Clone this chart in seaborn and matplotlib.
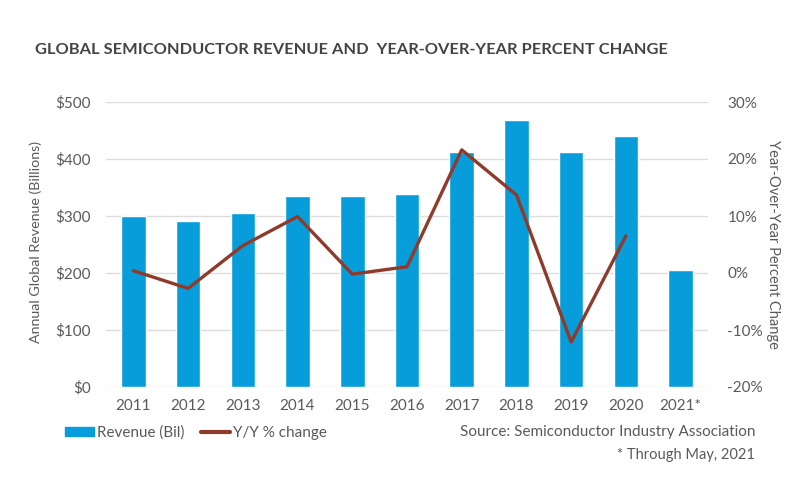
import numpy as np
import pandas as pd
import seaborn as sns
import matplotlib.pyplot as plt
from matplotlib.lines import Line2D
from matplotlib.patches import Patch
from matplotlib.ticker import FuncFormatter

years = ['2011', '2012', '2013', '2014', '2015', '2016',
         '2017', '2018', '2019', '2020', '2021*']
revenue = [299.5, 291.6, 305.6, 335.8, 335.2, 338.9,
           412.2, 468.8, 412.3, 440.4, 205.5]
yoy_years = years[:10]
yoy_change = [0.4, -2.7, 4.8, 9.9, -0.2, 1.1, 21.6, 13.7, -12.1, 6.5]

bar_color = '#079ddb'
line_color = '#8e3b2b'
text_color = '#5a5a5a'
grid_color = '#dcdcdc'

sns.set_theme(style='white')
plt.rcParams['font.family'] = ['Lato', 'DejaVu Sans']

df_rev = pd.DataFrame({'year': years, 'revenue': revenue})
df_yoy = pd.DataFrame({'pos': range(len(yoy_years)), 'change': yoy_change})

fig = plt.figure(figsize=(8, 5), dpi=100)
ax = fig.add_axes([0.1325, 0.226, 0.7525, 0.570])

# revenue bars
sns.barplot(data=df_rev, x='year', y='revenue', color=bar_color,
            width=0.45, saturation=1, ax=ax, zorder=2)
ax.set_ylim(0, 500)
ax.set_yticks(np.arange(0, 501, 100))
ax.yaxis.set_major_formatter(FuncFormatter(lambda v, p: f'${v:.0f}'))
ax.set_xlim(-0.5, len(years) - 0.5)
ax.grid(axis='y', color=grid_color, lw=1, zorder=0)
ax.set_axisbelow(True)
for s in ax.spines.values():
    s.set_visible(False)
ax.tick_params(axis='both', length=0, labelsize=11, labelcolor=text_color)
ax.tick_params(axis='y', pad=11)
ax.tick_params(axis='x', pad=9)
ax.set_xlabel('')
ax.set_ylabel('Annual Global Revenue (Billions)', fontsize=10.3, color=text_color)
ax.yaxis.set_label_coords(-0.107, 0.51)

# y/y change line
ax2 = ax.twinx()
sns.lineplot(data=df_yoy, x='pos', y='change', color=line_color,
             lw=2.4, ax=ax2, zorder=3)
ax2.set_ylim(-20, 30)
ax2.set_yticks(np.arange(-20, 31, 10))
ax2.yaxis.set_major_formatter(FuncFormatter(lambda v, p: f'{v:.0f}%'))
for s in ax2.spines.values():
    s.set_visible(False)
ax2.tick_params(axis='y', length=0, labelsize=11, labelcolor=text_color, pad=14)
ax2.set_ylabel('Year-Over-Year Percent Change', fontsize=10.5,
               color=text_color, rotation=270)
ax2.yaxis.set_label_coords(1.12, 0.5)
ax2.set_xlabel('')

fig.text(0.044, 0.90, 'GLOBAL SEMICONDUCTOR REVENUE AND  YEAR-OVER-YEAR PERCENT CHANGE',
         fontsize=11.8, fontweight='bold', color='#444444', va='center', ha='left')

handles = [Patch(color=bar_color, label='Revenue (Bil)'),
           Line2D([0], [0], color=line_color, lw=3, label='Y/Y % change')]
fig.legend(handles=handles, loc='center left', bbox_to_anchor=(0.064, 0.134),
           ncol=2, frameon=False, fontsize=11, labelcolor=text_color,
           handlelength=1.9, handleheight=0.5, handletextpad=0.2,
           columnspacing=1.1)

fig.text(0.944, 0.136, 'Source: Semiconductor Industry Association',
         fontsize=11, color=text_color, ha='right', va='center')
fig.text(0.944, 0.090, '* Through May, 2021',
         fontsize=10.5, color=text_color, ha='right', va='center')

fig.savefig('out.png', dpi=100)
